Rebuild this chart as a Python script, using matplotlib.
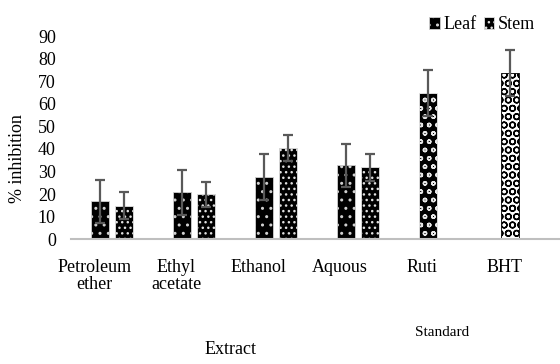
import matplotlib.pyplot as plt
import matplotlib.transforms as mtransforms
import numpy as np

categories = ['Petroleum\nether', 'Ethyl\nacetate', 'Ethanol', 'Aquous', 'Ruti', 'BHT']
leaf = [16.7, 20.7, 27.6, 32.7]
leaf_err = [9.6, 10.1, 10.1, 9.5]
stem = [14.8, 19.8, 40.3, 31.8]
stem_err = [6.0, 5.6, 5.7, 6.0]
std_vals = [64.6, 73.7]
std_err = [10.2, 10.1]

plt.rcParams['font.family'] = ['Liberation Serif', 'DejaVu Serif']
plt.rcParams['hatch.linewidth'] = 1.0

fig = plt.figure(figsize=(5.6, 3.64), dpi=100)
ax = fig.add_axes([0.127, 0.343, 0.873, 0.558])

x = np.arange(len(categories))
w = 0.22
off = 0.145
ekw = dict(ecolor='#595959', elinewidth=1.6, capsize=3.5, capthick=1.6)

# extract bars
ax.bar(x[:4] - off, leaf, w, yerr=leaf_err, color='black', edgecolor='#d0d0d0',
       hatch='..', linewidth=0.6, error_kw=ekw, label='Leaf')
ax.bar(x[:4] + off, stem, w, yerr=stem_err, color='black', edgecolor='#e0e0e0',
       hatch='...', linewidth=0.6, error_kw=ekw, label='Stem')
# standards
ax.bar(x[4] - off, std_vals[0], w, yerr=std_err[0], color='black', edgecolor='#e8e8e8',
       hatch='oo', linewidth=0.6, error_kw=ekw)
ax.bar(x[5] - off, std_vals[1], w, yerr=std_err[1], color='white', edgecolor='black',
       hatch='OO', linewidth=0.6, error_kw=ekw)

ax.set_xlim(-0.5, 5.46)
ax.set_ylim(0, 90)
ax.set_yticks(range(0, 100, 10))
ax.set_xticks(x)
ax.set_xticklabels(categories, fontsize=13, linespacing=1.0)
ax.tick_params(axis='both', length=0)
ax.tick_params(axis='y', labelsize=13, pad=11)
ax.tick_params(axis='x', pad=14)
shift = mtransforms.ScaledTranslation(-18 / 100, 0, fig.dpi_scale_trans)
for lbl in ax.get_xticklabels():
    lbl.set_transform(lbl.get_transform() + shift)
for s in ['top', 'right', 'left']:
    ax.spines[s].set_visible(False)
ax.spines['bottom'].set_color('#bfbfbf')
ax.spines['bottom'].set_linewidth(1.5)

fig.text(0.032, 0.565, '% inhibition', rotation=90, ha='center', va='center', fontsize=13)
fig.text(231 / 560, 1 - 350 / 364, 'Extract', ha='center', va='center', fontsize=13)
fig.text(442 / 560, 1 - 333 / 364, 'Standard', ha='center', va='center', fontsize=11)

fig.legend(loc='upper right', bbox_to_anchor=(0.985, 1.0), frameon=False, fontsize=13,
           handlelength=0.6, handleheight=0.6, handletextpad=0.2, columnspacing=0.4, ncol=2)

fig.savefig('out.png', dpi=100)
